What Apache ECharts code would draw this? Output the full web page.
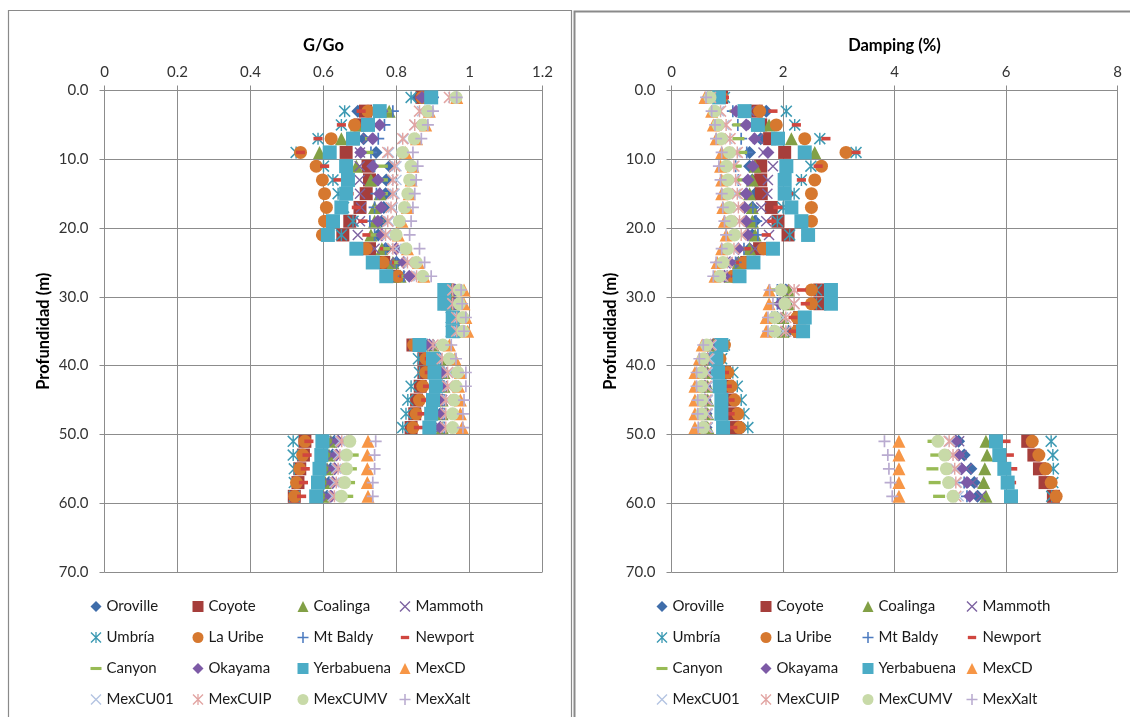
<!DOCTYPE html>
<html>
<head>
<meta charset="utf-8">
<script src="https://cdn.jsdelivr.net/npm/echarts@6/dist/echarts.min.js"></script>
<style>
  html, body { margin: 0; padding: 0; background: #fff; }
  #chart { width: 1130px; height: 717px; }
</style>
</head>
<body>
<div id="chart"></div>
<script>
// Sampling depths (m)
const depth = [1, 3, 5, 7, 9, 11, 13, 15, 17, 19, 21, 23, 25, 27,
               29, 31, 33, 35, 37, 39, 41, 43, 45, 47, 49, 51, 53, 55, 57, 59];

// Tick labels
const gTicks = [0, 0.2, 0.4, 0.6, 0.8, 1, 1.2];
const dTicks = [0, 2, 4, 6, 8];
const zTicks = [0, 10, 20, 30, 40, 50, 60, 70];

// Series names (legend order)
const names = ['Oroville', 'Coyote', 'Coalinga', 'Mammoth', 'Umbría', 'La Uribe', 'Mt Baldy', 'Newport',
               'Canyon', 'Okayama', 'Yerbabuena', 'MexCD', 'MexCU01', 'MexCUIP', 'MexCUMV', 'MexXalt'];

// G/Go per record
const gOroville  = [0.86, 0.694, 0.72, 0.71, 0.744, 0.781, 0.772, 0.77, 0.765, 0.76, 0.75, 0.77, 0.80, 0.81, 0.96, 0.96, 0.965, 0.965, 0.885, 0.905, 0.92, 0.92, 0.92, 0.92, 0.92, 0.63, 0.625, 0.62, 0.615, 0.61];
const gCoyote    = [0.87, 0.715, 0.70, 0.68, 0.662, 0.722, 0.726, 0.717, 0.70, 0.672, 0.653, 0.726, 0.765, 0.79, 0.94, 0.94, 0.955, 0.955, 0.845, 0.875, 0.875, 0.865, 0.855, 0.85, 0.84, 0.549, 0.545, 0.535, 0.53, 0.52];
const gCoalinga  = [0.88, 0.78, 0.69, 0.649, 0.589, 0.69, 0.73, 0.755, 0.74, 0.74, 0.73, 0.76, 0.79, 0.81, 0.95, 0.95, 0.96, 0.96, 0.90, 0.92, 0.93, 0.93, 0.925, 0.925, 0.925, 0.62, 0.615, 0.61, 0.605, 0.60];
const gMammoth   = [0.88, 0.75, 0.74, 0.72, 0.70, 0.699, 0.699, 0.70, 0.703, 0.70, 0.694, 0.74, 0.78, 0.81, 0.955, 0.955, 0.965, 0.965, 0.89, 0.91, 0.925, 0.925, 0.925, 0.92, 0.92, 0.63, 0.625, 0.62, 0.615, 0.612];
const gUmbria    = [0.84, 0.658, 0.649, 0.585, 0.525, 0.60, 0.626, 0.64, 0.655, 0.681, 0.649, 0.70, 0.74, 0.78, 0.93, 0.93, 0.95, 0.95, 0.85, 0.86, 0.863, 0.84, 0.831, 0.826, 0.817, 0.517, 0.517, 0.52, 0.52, 0.52];
const gLaUribe   = [0.87, 0.722, 0.685, 0.621, 0.537, 0.58, 0.597, 0.603, 0.608, 0.603, 0.597, 0.717, 0.763, 0.804, 0.94, 0.94, 0.955, 0.955, 0.847, 0.881, 0.88, 0.872, 0.863, 0.854, 0.845, 0.549, 0.543, 0.535, 0.526, 0.521];
const gMtBaldy   = [0.90, 0.79, 0.767, 0.75, 0.73, 0.74, 0.75, 0.745, 0.74, 0.727, 0.74, 0.77, 0.80, 0.82, 0.96, 0.96, 0.97, 0.97, 0.90, 0.92, 0.93, 0.93, 0.93, 0.93, 0.93, 0.64, 0.635, 0.63, 0.625, 0.62];
const gNewport   = [0.865, 0.703, 0.649, 0.585, 0.537, 0.603, 0.64, 0.67, 0.69, 0.708, 0.719, 0.767, 0.80, 0.82, 0.945, 0.945, 0.96, 0.96, 0.86, 0.89, 0.89, 0.885, 0.88, 0.87, 0.86, 0.56, 0.555, 0.55, 0.545, 0.54];
const gCanyon    = [0.89, 0.77, 0.75, 0.73, 0.72, 0.76, 0.76, 0.76, 0.755, 0.75, 0.745, 0.78, 0.81, 0.83, 0.96, 0.96, 0.97, 0.97, 0.90, 0.92, 0.94, 0.94, 0.935, 0.93, 0.93, 0.67, 0.68, 0.675, 0.67, 0.665];
const gOkayama   = [0.87, 0.76, 0.754, 0.735, 0.702, 0.735, 0.749, 0.754, 0.758, 0.749, 0.76, 0.799, 0.82, 0.835, 0.96, 0.96, 0.97, 0.97, 0.89, 0.91, 0.925, 0.925, 0.925, 0.925, 0.92, 0.64, 0.635, 0.63, 0.625, 0.62];
const gYerba     = [0.895, 0.754, 0.722, 0.681, 0.617, 0.662, 0.667, 0.662, 0.649, 0.626, 0.612, 0.69, 0.735, 0.772, 0.931, 0.931, 0.954, 0.954, 0.863, 0.90, 0.904, 0.908, 0.90, 0.895, 0.89, 0.597, 0.594, 0.589, 0.585, 0.58];
const gMexCD     = [0.965, 0.89, 0.88, 0.855, 0.825, 0.845, 0.84, 0.835, 0.83, 0.815, 0.805, 0.83, 0.86, 0.875, 0.985, 0.985, 0.99, 0.995, 0.945, 0.96, 0.975, 0.97, 0.975, 0.975, 0.98, 0.722, 0.72, 0.72, 0.72, 0.722];
const gMexCU01   = [0.955, 0.87, 0.85, 0.82, 0.78, 0.80, 0.80, 0.795, 0.79, 0.78, 0.775, 0.80, 0.835, 0.86, 0.955, 0.955, 0.97, 0.97, 0.91, 0.93, 0.945, 0.945, 0.94, 0.94, 0.94, 0.645, 0.64, 0.635, 0.63, 0.625];
const gMexCUIP   = [0.945, 0.863, 0.85, 0.817, 0.776, 0.795, 0.79, 0.79, 0.785, 0.776, 0.77, 0.79, 0.83, 0.855, 0.954, 0.954, 0.965, 0.965, 0.90, 0.925, 0.94, 0.94, 0.935, 0.935, 0.935, 0.65, 0.645, 0.64, 0.635, 0.63];
const gMexCUMV   = [0.963, 0.886, 0.872, 0.849, 0.817, 0.84, 0.836, 0.831, 0.822, 0.808, 0.799, 0.826, 0.854, 0.872, 0.972, 0.972, 0.982, 0.982, 0.927, 0.945, 0.968, 0.963, 0.958, 0.954, 0.954, 0.672, 0.663, 0.663, 0.658, 0.649];
const gMexXalt   = [0.965, 0.90, 0.886, 0.868, 0.845, 0.858, 0.854, 0.85, 0.845, 0.84, 0.836, 0.863, 0.877, 0.895, 0.977, 0.98, 0.99, 0.985, 0.95, 0.963, 0.99, 0.99, 0.985, 0.982, 0.982, 0.743, 0.74, 0.74, 0.735, 0.735];

// Damping (%) per record
const dOroville  = [0.85, 1.70, 1.5, 1.6, 1.40, 1.4, 1.45, 1.5, 1.45, 1.5, 1.45, 1.4, 1.2, 1.1, 2.05, 2.05, 1.9, 2.1, 0.75, 0.65, 0.6, 0.6, 0.6, 0.62, 0.62, 5.15, 5.25, 5.37, 5.43, 5.49];
const dCoyote    = [0.9, 1.52, 1.6, 1.76, 2.03, 1.6, 1.6, 1.61, 1.79, 1.91, 2.09, 1.58, 1.35, 1.2, 2.66, 2.66, 2.3, 2.3, 0.85, 0.8, 0.95, 1.0, 1.05, 1.1, 1.15, 6.39, 6.5, 6.6, 6.7, 6.85];
const dCoalinga  = [0.85, 1.3, 1.75, 2.15, 2.57, 1.5, 1.45, 1.4, 1.45, 1.45, 1.5, 1.4, 1.2, 1.05, 2.1, 2.1, 2.0, 2.0, 0.75, 0.7, 0.65, 0.65, 0.65, 0.65, 0.65, 5.64, 5.66, 5.62, 5.6, 5.64];
const dMammoth   = [0.8, 1.4, 1.45, 1.55, 1.65, 1.82, 1.73, 1.72, 1.61, 1.70, 1.75, 1.5, 1.25, 1.05, 2.0, 2.0, 1.9, 1.9, 0.75, 0.7, 0.65, 0.65, 0.65, 0.65, 0.65, 5.16, 5.2, 5.3, 5.4, 5.55];
const dUmbria    = [0.95, 2.06, 2.21, 2.66, 3.31, 2.5, 2.33, 2.2, 2.0, 1.9, 2.12, 1.7, 1.4, 1.2, 2.6, 2.6, 2.3, 2.3, 0.95, 0.9, 1.1, 1.18, 1.25, 1.3, 1.37, 6.81, 6.84, 6.85, 6.84, 6.82];
const dLaUribe   = [0.9, 1.58, 1.88, 2.39, 3.13, 2.69, 2.57, 2.51, 2.51, 2.51, 2.45, 1.65, 1.31, 1.1, 2.51, 2.51, 2.25, 2.25, 0.95, 0.87, 1.01, 1.07, 1.13, 1.19, 1.22, 6.47, 6.59, 6.71, 6.81, 6.9];
const dMtBaldy   = [0.65, 1.1, 1.19, 1.25, 1.35, 1.15, 1.2, 1.35, 1.46, 1.52, 1.55, 1.3, 1.15, 1.0, 1.9, 1.9, 1.8, 1.8, 0.65, 0.6, 0.55, 0.55, 0.55, 0.55, 0.55, 5.1, 5.15, 5.2, 5.25, 5.3];
const dNewport   = [0.95, 1.82, 2.24, 2.77, 3.31, 2.63, 2.33, 2.1, 1.91, 1.8, 1.70, 1.34, 1.13, 1.0, 2.33, 2.4, 2.18, 2.18, 0.85, 0.8, 0.95, 1.0, 1.05, 1.05, 1.1, 6.0, 6.06, 6.12, 6.1, 6.05];
const dCanyon    = [0.7, 1.15, 1.2, 1.2, 1.25, 1.15, 1.2, 1.25, 1.3, 1.3, 1.35, 1.2, 1.05, 0.95, 1.9, 1.9, 1.8, 1.8, 0.65, 0.6, 0.55, 0.55, 0.55, 0.55, 0.55, 4.7, 4.75, 4.68, 4.72, 4.8];
const dOkayama   = [0.8, 1.16, 1.34, 1.49, 1.73, 1.46, 1.37, 1.34, 1.31, 1.34, 1.37, 1.2, 1.05, 0.95, 1.95, 1.95, 1.85, 1.85, 0.7, 0.65, 0.6, 0.6, 0.6, 0.6, 0.6, 5.1, 5.15, 5.2, 5.3, 5.35];
const dYerba     = [0.85, 1.31, 1.55, 1.91, 2.39, 2.06, 2.03, 2.03, 2.15, 2.33, 2.45, 1.82, 1.47, 1.22, 2.86, 2.86, 2.39, 2.36, 0.895, 0.805, 0.835, 0.865, 0.895, 0.895, 0.925, 5.82, 5.88, 5.97, 6.03, 6.09];
const dMexCD     = [0.6, 0.72, 0.75, 0.8, 0.9, 0.88, 0.9, 0.9, 0.92, 0.95, 0.98, 0.9, 0.82, 0.78, 1.75, 1.75, 1.7, 1.7, 0.55, 0.5, 0.42, 0.42, 0.42, 0.42, 0.42, 4.08, 4.08, 4.08, 4.08, 4.08];
const dMexCU01   = [0.7, 0.85, 0.95, 1.0, 1.15, 1.1, 1.12, 1.15, 1.2, 1.22, 1.25, 1.1, 0.98, 0.9, 2.2, 2.2, 2.0, 2.0, 0.72, 0.68, 0.65, 0.65, 0.65, 0.65, 0.65, 5.0, 5.05, 5.1, 5.12, 5.15];
const dMexCUIP   = [0.7, 0.88, 0.98, 1.05, 1.18, 1.12, 1.15, 1.18, 1.2, 1.22, 1.25, 1.12, 1.0, 0.92, 2.2, 2.2, 2.05, 2.05, 0.7, 0.65, 0.62, 0.62, 0.62, 0.62, 0.62, 4.98, 5.05, 5.08, 5.1, 5.1];
const dMexCUMV   = [0.69, 0.775, 0.835, 0.895, 1.04, 0.985, 1.01, 1.01, 1.04, 1.07, 1.13, 1.01, 0.925, 0.865, 1.97, 2.03, 1.85, 1.85, 0.63, 0.57, 0.54, 0.54, 0.54, 0.54, 0.57, 4.78, 4.9, 4.93, 4.97, 5.05];
const dMexXalt   = [0.62, 0.72, 0.78, 0.8, 0.9, 0.85, 0.88, 0.9, 0.92, 0.95, 0.98, 0.9, 0.8, 0.75, 1.76, 1.82, 1.73, 1.73, 0.57, 0.5, 0.45, 0.45, 0.47, 0.47, 0.48, 3.82, 3.88, 3.9, 3.93, 3.96];

// Marker shapes
const SYM_X = 'path://M0,9 L9,0 L100,91 L91,100 Z M91,0 L100,9 L9,100 L0,91 Z';
const SYM_PLUS = 'path://M43,0 L57,0 L57,100 L43,100 Z M0,43 L100,43 L100,57 L0,57 Z';
const SYM_STAR = 'path://M0,9 L9,0 L100,91 L91,100 Z M91,0 L100,9 L9,100 L0,91 Z M44,0 L56,0 L56,100 L44,100 Z';
const SYM_SHORT = 'path://M0,0 M100,100 M12,35 L88,35 L88,65 L12,65 Z';
const SYM_LONG = 'path://M0,0 M100,100 M0,36 L100,36 L100,64 L0,64 Z';

const gValues = [gOroville, gCoyote, gCoalinga, gMammoth, gUmbria, gLaUribe, gMtBaldy, gNewport,
                 gCanyon, gOkayama, gYerba, gMexCD, gMexCU01, gMexCUIP, gMexCUMV, gMexXalt];
const dValues = [dOroville, dCoyote, dCoalinga, dMammoth, dUmbria, dLaUribe, dMtBaldy, dNewport,
                 dCanyon, dOkayama, dYerba, dMexCD, dMexCU01, dMexCUIP, dMexCUMV, dMexXalt];

const styles = [
  { symbol: 'diamond', size: 13, color: '#3F6DAA' },
  { symbol: 'rect', size: 13, color: '#A63E3B' },
  { symbol: 'triangle', size: 13, color: '#82A046' },
  { symbol: SYM_X, size: 11, color: '#7D63A1' },
  { symbol: SYM_STAR, size: 12, color: '#3D9AB3' },
  { symbol: 'circle', size: 13, color: '#D6782F' },
  { symbol: SYM_PLUS, size: 12, color: '#4D7BC0' },
  { symbol: SYM_SHORT, size: 12, color: '#D0463F' },
  { symbol: SYM_LONG, size: 12, color: '#98BB55' },
  { symbol: 'diamond', size: 13, color: '#7D5AA6' },
  { symbol: 'rect', size: 14, color: '#4BACC6' },
  { symbol: 'triangle', size: 13, color: '#F79646' },
  { symbol: SYM_X, size: 11, color: '#B4C4E2' },
  { symbol: SYM_STAR, size: 12, color: '#E2A5A3' },
  { symbol: 'circle', size: 13, color: '#C8DAA8' },
  { symbol: SYM_PLUS, size: 12, color: '#B9ABD0' }
];

const FONT = 'Lato, "Liberation Sans", sans-serif';
const GRID_TOP = 90.5, GRID_H = 481.5;
const AXIS_GRAY = '#8c8c8c';

function valueAxis(grid, min, max, interval, name, opts) {
  return Object.assign({
    type: 'value', gridIndex: grid, min: min, max: max, interval: interval,
    name: name, nameLocation: 'middle',
    nameTextStyle: { fontFamily: FONT, fontSize: 16.5, fontWeight: 'bold', color: '#000' },
    axisLine: { show: true, onZero: false, lineStyle: { color: AXIS_GRAY, width: 1 } },
    axisTick: { show: true, inside: false, length: 5, lineStyle: { color: AXIS_GRAY } },
    splitLine: { show: true, lineStyle: { color: AXIS_GRAY, width: 1 } },
    axisLabel: { fontFamily: FONT, fontSize: 15, color: '#333' }
  }, opts);
}

const xAxes = [
  valueAxis(0, gTicks[0], gTicks[gTicks.length - 1], 0.2, 'G/Go', {
    position: 'top', nameGap: 36,
    axisLabel: { fontFamily: FONT, fontSize: 15, color: '#333', margin: 11,
                 formatter: v => String(Math.round(v * 10) / 10) }
  }),
  valueAxis(1, dTicks[0], dTicks[dTicks.length - 1], 2, 'Damping (%)', {
    position: 'top', nameGap: 36,
    axisLabel: { fontFamily: FONT, fontSize: 15, color: '#333', margin: 11 }
  })
];
const yAxes = [0, 1].map(g => valueAxis(g, zTicks[0], zTicks[zTicks.length - 1], 10, 'Profundidad (m)', {
  inverse: true, nameGap: 52, nameRotate: 90,
  axisLabel: { fontFamily: FONT, fontSize: 15, color: '#333', margin: 16, formatter: v => v.toFixed(1) }
}));

const series = [];
names.forEach((nm, k) => {
  const st = styles[k];
  [[gValues[k], 0], [dValues[k], 1]].forEach(([vals, g]) => {
    series.push({
      type: 'scatter', name: nm, xAxisIndex: g, yAxisIndex: g,
      symbol: st.symbol, symbolSize: st.size,
      itemStyle: { color: st.color, opacity: 1 },
      emphasis: { disabled: true },
      data: depth.map((z, i) => [vals[i], z])
    });
  });
});

// Legend: four columns per panel, four rows each
const legendCols = [
  ['Oroville', 'Umbría', 'Canyon', 'MexCU01'],
  ['Coyote', 'La Uribe', 'Okayama', 'MexCUIP'],
  ['Coalinga', 'Mt Baldy', 'Yerbabuena', 'MexCUMV'],
  ['Mammoth', 'Newport', 'MexCD', 'MexXalt']
];
const panelCols = [[90.5, 192.5, 297.5, 399.5], [656.5, 760.5, 862.5, 966.5]];
const legends = [];
panelCols.forEach(lefts => {
  legendCols.forEach((col, c) => {
    legends.push({
      orient: 'vertical', left: lefts[c], top: 596.5, padding: 0,
      itemWidth: 11, itemHeight: 11, itemGap: 11, selectedMode: false,
      textStyle: { fontFamily: FONT, fontSize: 15, color: '#1a1a1a', lineHeight: 20 },
      data: col
    });
  });
});

const chart = echarts.init(document.getElementById('chart'), null, { renderer: 'canvas' });
chart.setOption({
  backgroundColor: '#fff',
  animation: false,
  grid: [
    { left: 104.5, top: GRID_TOP, width: 438, height: GRID_H },
    { left: 671.5, top: GRID_TOP, width: 446, height: GRID_H }
  ],
  xAxis: xAxes,
  yAxis: yAxes,
  legend: legends,
  graphic: [
    { type: 'rect', silent: true, z: -1, shape: { x: 8.5, y: 10.5, width: 563, height: 740 },
      style: { fill: 'none', stroke: '#8a8a8a', lineWidth: 1.2 } },
    { type: 'rect', silent: true, z: -1, shape: { x: 574.5, y: 11.5, width: 600, height: 740 },
      style: { fill: 'none', stroke: '#8a8a8a', lineWidth: 2 } }
  ],
  series: series
});
</script>
</body>
</html>
